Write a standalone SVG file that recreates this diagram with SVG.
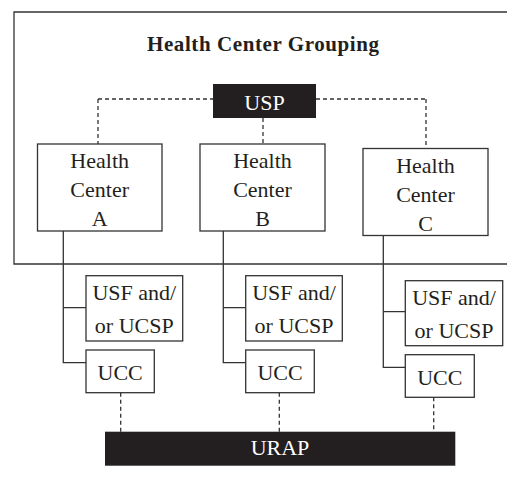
<svg xmlns="http://www.w3.org/2000/svg" width="507" height="488" viewBox="0 0 507 488">
<style>
.box{fill:#fff;stroke:#333;stroke-width:1.3}
.dark{fill:#231f20}
.t{font-family:"Liberation Serif","Times New Roman",serif;font-size:22px;fill:#231f20;text-anchor:middle}
.w{fill:#fff}
.title{font-weight:bold;font-size:21px}
.solid{fill:none;stroke:#333;stroke-width:1.3}
.dash{fill:none;stroke:#333;stroke-width:1.3;stroke-dasharray:4 3}
</style>
<rect width="507" height="488" fill="#fff"/>
<g id="grouping">
<path class="solid" d="M507,12 H14 V264 H507"/>
<text class="t title" x="263" y="51" textLength="232">Health Center Grouping</text>
</g>
<g id="connectors">
<path class="dash" d="M98,99 H213 M316,99 H426 M98,99 V144 M263,118 V144 M426,99 V148.5"/>
<path class="solid" d="M63.3,231 V362.7 H86 M63.3,307.7 H86 M223.3,231 V362.7 H245.7 M223.3,307.7 H245.7 M383.3,235.5 V367.3 H405.3 M383.3,311.7 H405.3"/>
<path class="dash" d="M120.7,392.7 V431.7 M279.3,392.7 V431.7 M433.7,397.3 V431.7"/>
</g>
<g id="usp">
<rect class="dark" x="213" y="84" width="103" height="34"/>
<text class="t w" x="264.5" y="110">USP</text>
</g>
<g id="hcA">
<rect class="box" x="37.5" y="144" width="124.5" height="87"/>
<text class="t" x="99.7" y="168">Health</text>
<text class="t" x="99.7" y="197">Center</text>
<text class="t" x="99.7" y="226">A</text>
</g>
<g id="hcB">
<rect class="box" x="200" y="144" width="125" height="87"/>
<text class="t" x="262.5" y="168">Health</text>
<text class="t" x="262.5" y="197">Center</text>
<text class="t" x="262.5" y="226">B</text>
</g>
<g id="hcC">
<rect class="box" x="363" y="148.5" width="125" height="87"/>
<text class="t" x="425.5" y="172.5">Health</text>
<text class="t" x="425.5" y="201.5">Center</text>
<text class="t" x="425.5" y="230.5">C</text>
</g>
<g id="usfA">
<rect class="box" x="86" y="275.7" width="96.7" height="65.3"/>
<text class="t" x="134.3" y="300">USF and/</text>
<text class="t" x="134.3" y="333">or UCSP</text>
</g>
<g id="uccA">
<rect class="box" x="86" y="350" width="68.3" height="42.7"/>
<text class="t" x="120.2" y="380">UCC</text>
</g>
<g id="usfB">
<rect class="box" x="245.7" y="275.7" width="96.6" height="65.3"/>
<text class="t" x="294" y="300">USF and/</text>
<text class="t" x="294" y="333">or UCSP</text>
</g>
<g id="uccB">
<rect class="box" x="245.7" y="350" width="68.6" height="42.7"/>
<text class="t" x="280" y="380">UCC</text>
</g>
<g id="usfC">
<rect class="box" x="405.3" y="280.7" width="97.4" height="65"/>
<text class="t" x="454" y="305">USF and/</text>
<text class="t" x="454" y="338">or UCSP</text>
</g>
<g id="uccC">
<rect class="box" x="405.3" y="354.7" width="69" height="42.6"/>
<text class="t" x="439.8" y="384.7">UCC</text>
</g>
<g id="urap">
<rect class="dark" x="105" y="431.7" width="350.3" height="34"/>
<text class="t w" x="280" y="455">URAP</text>
</g>
</svg>
